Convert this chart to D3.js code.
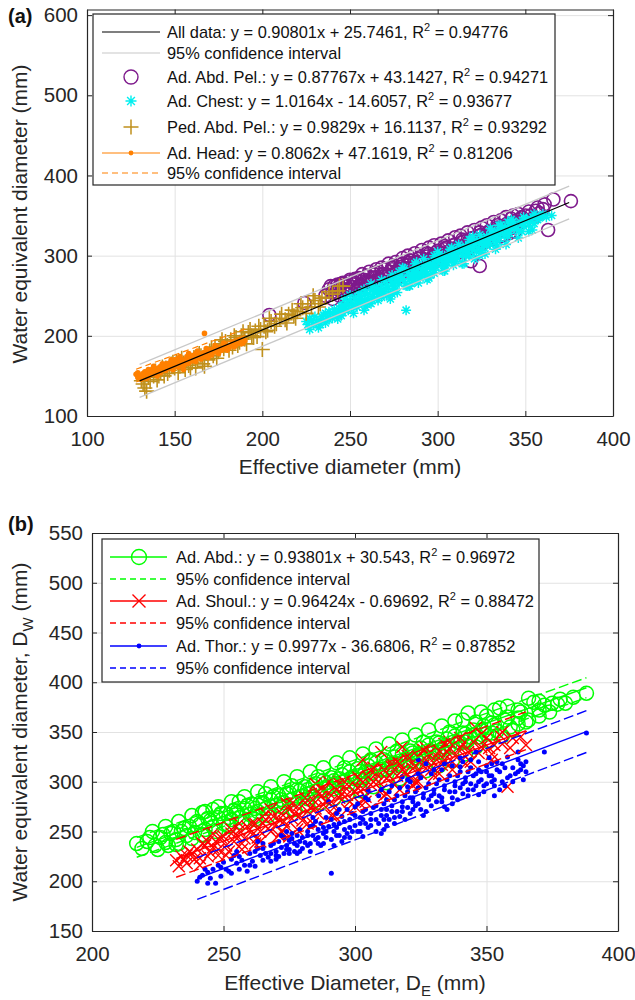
<!DOCTYPE html>
<html>
<head>
<meta charset="utf-8">
<script src="https://cdnjs.cloudflare.com/ajax/libs/d3/7.8.5/d3.min.js"></script>
<style>
  body { margin: 0; background: #fff; }
  svg text { font-family: "Liberation Sans", Arial, Helvetica, sans-serif; }
</style>
</head>
<body>
<svg id="chart" width="635" height="1000"></svg>
<script>

// ---------- data ----------

// panel (a) ticks
var xTicksA = [100, 150, 200, 250, 300, 350, 400];
var yTicksA = [100, 200, 300, 400, 500, 600];
// panel (b) ticks
var xTicksB = [200, 250, 300, 350, 400];
var yTicksB = [150, 200, 250, 300, 350, 400, 450, 500, 550];

// fits: [slope, intercept, xStart, xEnd, half width of 95% CI]
var fitAll   = [0.90801, 25.7461, 130, 375, 20.5];
var fitHead  = [0.8062, 47.1619, 128, 190, 8];
var fitAbd   = [0.93801, 30.543, 217, 388, 10];
var fitShoul = [0.96424, -0.69692, 232, 365, 19];
var fitThor  = [0.9977, -36.6806, 240, 388, 21];

// Ad. Head (orange dots) [De, Dw]
var headPts = [[128,152],[129,148],[130,151],[131,146],[132,153],[133,150],[134,155],[135,149],[136,156],[137,152],
  [138,158],[139,153],[140,157],[141,160],[142,154],[143,159],[144,162],[145,157],[146,163],[147,160],[148,165],
  [149,158],[150,164],[151,167],[152,161],[153,166],[154,170],[155,163],[156,168],[157,171],[158,166],[159,172],
  [160,169],[161,174],[162,168],[163,173],[164,176],[165,171],[166,177],[167,203],[167,174],[168,179],[169,173],
  [170,181],[171,176],[172,180],[174,184],[175,178],[176,183],[178,186],[180,182],[182,188],[184,186],[186,191],
  [188,190],[190,194],[145,165],[150,170],[155,158],[160,175],[140,150],[135,158],[158,176],[162,178],[152,172],
  [129,154],[131,150],[133,155],[134,147],[136,152],[137,158],[139,156],[141,155],[142,162],[144,158],[146,160],
  [147,166],[149,163],[151,163],[152,169],[154,166],[156,165],[157,174],[159,169],[161,170],[163,177],[165,174],
  [167,179],[169,177],[171,183],[173,180],[175,185],[177,182],[179,188],[181,185],[183,192],[185,189],[187,195],
  [189,191],[138,162],[143,165],[148,170],[153,174],[158,178],[163,181],[168,184],[173,188],[178,191]];

// Ped. Abd. Pel. (goldenrod plus)
var pedPts = [[131,144],[132,140],[133,135],[134,131],[135,148],[138,150],[140,145],[142,155],[144,150],[145,160],
  [147,157],[148,165],[150,160],[151,168],[152,154],[153,162],[155,166],[156,158],[157,170],[158,163],[160,167],
  [161,173],[162,160],[163,171],[165,175],[166,165],[168,178],[169,170],[170,181],[172,175],[173,186],[175,180],
  [176,190],[178,184],[179,193],[180,188],[182,195],[183,186],[185,198],[187,192],[188,200],[190,196],[192,204],
  [194,200],[196,206],[197,199],[199,208],[200,183],[201,212],[203,207],[205,218],[208,215],[210,222],[213,220],
  [215,227],[218,225],[220,230],[223,235],[226,240],[228,236],[230,244],[233,240],[236,248],[240,252],[243,256],
  [246,262],[234,247],
  [136,143],[139,156],[141,150],[143,161],[146,153],[149,167],[154,172],[159,160],[164,178],[167,162],[171,185],
  [174,172],[177,195],[181,182],[184,200],[186,188],[189,205],[191,190],[193,208],[195,198],[198,212],[202,205],
  [204,222],[207,212],[211,227],[214,216],[217,232],[219,222],[222,240],[225,228],[229,250],[232,236],[238,255],
  [244,262]];

// Ad. Abd. Pel. (purple circles)
var abdPelPts = [[204,226],[224,241],[236,250],[238,258],[240,255],[241,262],[243,258],[245,265],[246,258],[248,262],
  [250,268],[251,261],[253,266],[255,272],[256,264],[258,270],[260,275],[261,268],[263,272],[265,279],[266,270],
  [268,276],[270,283],[271,274],[273,280],[275,287],[276,278],[278,284],[280,290],[281,281],[283,288],[285,294],
  [286,285],[288,291],[290,298],[291,289],[293,295],[295,302],[296,293],[298,299],[300,306],[301,297],[303,303],
  [305,310],[306,300],[308,307],[310,314],[311,305],[313,311],[315,318],[316,309],[318,315],[319,293],[320,322],
  [321,312],[323,319],[324,287],[325,326],[326,316],[328,322],[330,330],[331,320],[333,327],[335,334],[336,324],
  [338,331],[340,338],[341,328],[343,335],[345,341],[347,345],[350,350],[352,355],[355,348],[357,360],[361,364],
  [363,332],[366,370],[376,368],[311,303],
  [240,246],[242,254],[244,250],[247,257],[249,253],[252,264],[254,259],[257,263],[259,268],[262,266],[264,273],
  [267,270],[269,277],[272,276],[274,283],[277,280],[279,286],[282,284],[284,291],[287,288],[289,296],[292,293],
  [294,299],[297,297],[299,304],[302,302],[304,308],[307,306],[309,313],[312,311],[314,317],[317,315],[319,321],
  [322,319],[324,325],[327,322],[329,330],[332,328],[334,335],[337,332],[339,339],[342,337],[344,343],[346,340],
  [348,348],[244,262],[254,268],[264,277],[274,285],[284,294],[294,303],[304,312],[314,320],[324,329],[334,338],
  [342,346],[249,258],[259,266],[269,274],[279,283],[289,292],[299,301],[309,309],[319,318],[329,326],[339,335],
  [353,350],[356,356],[358,353],[360,358],[350,344],
  [239,262],[243,264],[246,266],[250,270],[253,271],[257,277],[261,280],[265,283],[268,285],[272,290],[276,292],
  [280,297],[283,300],[287,303],[291,307],[295,310],[298,313],[302,315],[306,319],[310,323],[313,325],[317,329],
  [321,332],[325,335],[328,338],[332,342],[336,344],[339,348],[343,350],[346,352],[248,248],[258,258],[268,266],
  [278,274],[288,283],[298,292],[308,300],[318,309],[328,318],[338,326],[344,330]];

// Ad. Chest (cyan asterisks)
var chestPts = [[225,218],[227,222],[229,214],[230,224],[232,210],[233,220],[235,226],[236,216],[238,230],[240,222],
  [241,233],[243,226],[245,237],[246,229],[248,240],[249,232],[250,244],[252,236],[253,247],[255,240],[256,250],
  [258,243],[259,254],[260,246],[262,257],[263,249],[265,260],[266,252],[268,263],[269,255],[270,268],[272,259],
  [273,270],[275,262],[276,273],[278,265],[279,276],[281,268],[282,232],[283,279],[284,271],[286,282],[287,274],
  [289,285],[290,277],[292,288],[293,280],[295,291],[296,283],[298,294],[299,286],[301,297],[302,289],[304,300],
  [305,292],[307,303],[308,295],[310,306],[311,298],[313,309],[314,301],[316,312],[317,304],[319,315],[320,307],
  [322,318],[323,310],[325,321],[326,313],[328,324],[329,316],[331,327],[332,319],[334,330],[335,322],[337,333],
  [338,325],[340,336],[341,328],[343,339],[345,333],[347,342],[349,337],[351,345],[354,332],[356,350],[358,347],
  [365,350],[262,265],[280,285],[300,305],[318,320],[335,338],[250,251],[270,258],[290,272],[310,292],[330,314],
  [245,225],[275,255],[305,287],[325,306],[262,240],[285,265],
  [226,214],[228,219],[231,217],[234,224],[237,222],[239,228],[242,229],[244,234],[247,233],[249,238],[251,240],
  [254,244],[257,243],[260,252],[261,241],[264,255],[267,255],[268,248],[271,262],[274,265],[276,258],[277,268],
  [280,271],[282,262],[285,276],[287,269],[288,280],[291,283],[293,276],[294,286],[297,289],[298,282],[300,293],
  [303,296],[304,288],[306,299],[309,302],[310,296],[312,305],[315,308],[316,300],[318,311],[321,314],[322,306],
  [324,317],[327,320],[328,312],[330,322],[333,326],[334,318],[336,329],[339,331],[340,324],[342,335],[344,337],
  [346,331],[348,340],[350,343],[352,338],[353,346],[355,340],[357,345],[359,349],[362,348],[348,330],[236,228],
  [246,238],[256,246],[266,258],[276,268],[286,275],[296,288],[306,294],[316,307],[326,318],[244,230],[254,236],
  [264,246],[274,252],[284,262],[294,270],[304,281],[314,290],[324,300],[334,312],[258,258],[268,270],[278,280],
  [288,292],[298,300],[308,310],[320,324],[330,334],[340,342],
  [227,208],[233,214],[238,220],[243,221],[247,246],[252,228],[255,253],[259,236],[263,262],[266,244],[271,250],
  [274,276],[277,254],[281,284],[283,262],[287,290],[289,266],[292,296],[295,272],[298,278],[301,302],[303,281],
  [307,308],[309,288],[312,314],[315,290],[319,320],[321,296],[324,326],[327,302],[331,332],[333,308],[336,338],
  [339,314],[343,343],[346,322],[349,348],[352,330],[355,352],[360,352],[342,345],[318,300],[296,276],[273,246],
  [258,232]];

// Ad. Abd. (green circles)
var abdPts = [[217,238],[219,233],[221,240],[224,236],[226,244],[228,239],[230,248],[232,242],[234,250],[236,246],
  [237,255],[239,249],[241,257],[242,269],[243,252],[245,261],[246,255],[248,264],[250,258],[251,268],[253,262],
  [255,270],[256,264],[258,273],[260,267],[261,277],[263,270],[265,279],[266,273],[268,282],[270,276],[271,286],
  [273,279],[275,289],[276,282],[278,292],[280,285],[281,295],[283,288],[285,298],[286,291],[288,301],[290,294],
  [291,304],[293,297],[295,307],[296,300],[298,310],[300,303],[301,313],[303,306],[305,316],[306,309],[308,319],
  [310,312],[311,322],[313,315],[315,325],[316,318],[318,328],[320,321],[321,331],[323,324],[325,334],[326,327],
  [328,337],[330,330],[331,340],[333,333],[335,343],[336,336],[338,346],[340,339],[341,349],[343,342],[345,352],
  [347,345],[349,356],[350,348],[352,359],[354,351],[357,362],[359,355],[362,364],[365,360],[368,380],[372,377],
  [375,379],[377,378],[380,379],[388,389],[343,369],[341,362],[355,374],[362,372],
  [222,244],[225,232],[227,247],[229,236],[231,250],[233,238],[235,253],[238,243],[240,260],[242,247],[244,263],
  [247,250],[249,268],[252,255],[254,271],[257,259],[259,276],[262,262],[264,279],[267,266],[269,285],[272,268],
  [274,288],[277,272],[279,291],[282,276],[284,296],[287,279],[289,299],[292,283],[294,303],[297,287],[299,305],
  [302,291],[304,310],[307,295],[309,313],[312,299],[314,317],[317,303],[319,322],[322,307],[324,326],[327,311],
  [329,331],[332,316],[334,335],[337,321],[339,340],[342,328],[344,345],[346,335],[348,352],[351,341],[353,357],
  [356,346],[358,365],[360,352],[363,370],[366,362],[370,372],[374,370],[378,383],[383,385],[246,272],[256,280],
  [266,288],[276,296],[286,305],[296,314],[306,322],[316,331],[326,340],[336,350],[346,360],[350,366],[252,264],
  [262,273],[272,282],[282,292],[292,301],[302,310],[312,320],[322,329],[332,339],[342,348],
  [223,250],[228,255],[233,260],[238,266],[243,270],[248,275],[253,280],[258,285],[263,290],[268,295],[273,300],
  [278,305],[283,310],[288,314],[293,319],[298,324],[303,328],[308,333],[313,338],[318,342],[323,347],[328,352],
  [333,356],[338,361],[348,370],[353,372],[358,376],[366,384],[370,381],[232,237],[242,246],[252,256],[262,265],
  [272,275],[282,283],[292,293],[302,302],[312,312],[322,321],[332,330],[342,340],[352,349],[362,358],[370,366]];

// Ad. Shoul. (red crosses)
var shoulPts = [[232,221],[234,225],[236,218],[238,228],[240,232],[241,223],[243,236],[245,229],[247,240],[248,232],
  [250,245],[251,236],[253,248],[254,240],[256,251],[258,243],[259,255],[261,247],[262,258],[264,250],[266,262],
  [267,253],[269,265],[270,257],[272,268],[273,260],[275,272],[276,263],[278,275],[279,266],[281,279],[282,270],
  [284,282],[285,273],[287,285],[288,277],[290,289],[291,280],[293,292],[294,284],[296,295],[297,287],[299,299],
  [300,290],[302,302],[303,293],[305,305],[306,297],[308,308],[309,300],[311,312],[312,303],[314,315],[316,306],
  [317,318],[319,310],[320,322],[322,313],[324,325],[326,316],[328,328],[330,319],[332,331],[334,322],[336,334],
  [338,326],[341,338],[343,330],[346,354],[348,335],[351,334],[355,347],[358,295],[359,334],[365,337],[324,300],
  [300,275],[275,245],[310,330],[290,300],
  [233,215],[235,222],[237,230],[239,222],[242,238],[244,225],[246,234],[249,244],[252,230],[255,246],[257,238],
  [260,252],[263,244],[265,258],[268,250],[271,262],[274,255],[277,268],[280,261],[283,274],[286,268],[289,281],
  [292,274],[295,288],[298,280],[301,294],[304,285],[307,300],[310,292],[313,306],[315,297],[318,312],[321,303],
  [323,316],[325,308],[327,322],[329,312],[331,326],[333,317],[335,330],[337,320],[340,334],[342,325],[345,340],
  [347,329],[350,344],[353,337],[356,350],[246,248],[256,258],[266,268],[276,278],[286,290],[296,300],[306,311],
  [316,320],[326,332],[336,340],[251,226],[262,238],[272,250],[282,258],[292,266],[302,278],[312,288],[322,296],
  [332,308],[342,318],[352,328],
  [236,226],[241,216],[244,240],[248,226],[253,252],[257,232],[261,258],[264,240],[268,272],[271,246],[274,278],
  [278,252],[281,284],[284,258],[288,292],[291,266],[294,298],[297,272],[301,305],[304,280],[307,314],[311,286],
  [314,318],[317,292],[320,326],[323,300],[327,334],[330,306],[334,338],[337,312],[340,344],[344,320],[348,348],
  [352,322],[356,338],[360,344],[363,345],[318,335],[303,322],[285,298]];

// Ad. Thor. (blue dots)
var thorPts = [[240,200],[242,206],[244,209],[246,212],[247,198],[249,214],[250,219],[252,210],[253,222],[255,218],
  [256,225],[258,216],[260,228],[261,220],[262,230],[264,226],[265,233],[267,224],[268,236],[270,230],[271,240],
  [272,234],[273,244],[274,236],[275,241],[276,248],[277,238],[278,246],[279,252],[280,244],[281,239],[282,250],
  [283,255],[284,246],[285,242],[286,252],[287,258],[288,248],[289,244],[290,255],[291,208],[291,262],[292,250],
  [293,246],[294,258],[295,265],[296,252],[297,248],[298,262],[299,268],[300,256],[301,250],[302,264],[303,270],
  [304,258],[305,254],[306,268],[307,274],[308,262],[309,258],[310,272],[311,278],[312,266],[313,262],[314,276],
  [315,282],[316,270],[317,265],[318,280],[319,286],[320,274],[321,268],[322,284],[323,290],[324,278],[325,272],
  [326,288],[327,294],[328,282],[329,276],[330,292],[331,298],[332,286],[333,280],[334,296],[335,302],[336,290],
  [337,284],[338,300],[339,306],[340,294],[341,288],[342,304],[343,310],[344,298],[345,292],[346,308],[347,312],
  [348,302],[349,296],[350,310],[351,306],[352,300],[354,312],[356,318],[358,304],[360,314],[362,322],[364,316],
  [372,330],[388,349],[263,240],[285,260],[300,275],[320,295],[340,315],[275,228],[295,240],[315,258],[335,272],
  [355,292],[270,222],[310,248],[312,256],[337,278],[347,287],[324,322],[327,318],[358,325],[363,312],[318,305],
  [305,292],[290,280],
  [241,204],[243,212],[245,203],[248,216],[251,212],[254,226],[257,221],[259,210],[263,233],[266,228],[269,238],
  [270,226],[272,246],[273,228],[274,232],[276,243],[277,230],[278,236],[279,240],[280,233],[282,246],[283,238],
  [284,256],[286,244],[287,236],[288,254],[289,264],[291,242],[292,257],[293,268],[294,246],[296,260],[297,272],
  [298,254],[300,266],[301,278],[302,258],[303,245],[304,272],[305,282],[306,262],[308,276],[309,286],[310,266],
  [311,252],[312,282],[313,290],[314,270],[316,286],[317,294],[318,275],[319,262],[320,290],[321,300],[322,280],
  [324,294],[325,304],[326,284],[327,270],[328,298],[329,308],[330,288],[332,302],[333,312],[334,292],[336,306],
  [337,316],[338,296],[339,282],[340,310],[341,320],[342,300],[344,314],[345,306],[346,296],[347,320],[348,310],
  [349,290],[350,316],[351,324],[352,306],[353,296],[354,320],[355,310],[356,300],[357,314],[359,306],[361,308],
  [363,318],[364,302],[365,310],[283,230],[292,236],[302,250],[311,262],[322,272],[333,284],[343,292],[353,302],
  [260,216],[268,220],[278,228],[288,238],[298,244],[310,292],[320,302],[330,312],[340,324],[346,330],
  [244,198],[249,205],[253,208],[256,212],[262,215],[265,221],[268,228],[271,225],[275,232],[279,230],[282,236],
  [286,238],[289,250],[293,254],[296,244],[299,250],[303,262],[306,256],[308,250],[312,272],[315,264],[318,270],
  [321,284],[323,276],[326,266],[329,286],[331,280],[334,275],[338,290],[341,298],[343,286],[347,300],[350,298],
  [353,286],[357,296],[360,300],[362,310],[365,320],[255,230],[265,238],[274,250],[284,264],[294,272],[304,284],
  [314,296],[324,308],[334,318],[344,322],[352,318],[362,330]];

// legend labels ("^2" is drawn as a superscript)
var legendA = [
  "All data: y = 0.90801x + 25.7461, R^2 = 0.94776",
  "95% confidence interval",
  "Ad. Abd. Pel.: y = 0.87767x + 43.1427, R^2 = 0.94271",
  "Ad. Chest: y = 1.0164x - 14.6057, R^2 = 0.93677",
  "Ped. Abd. Pel.: y = 0.9829x + 16.1137, R^2 = 0.93292",
  "Ad. Head: y = 0.8062x + 47.1619, R^2 = 0.81206",
  "95% confidence interval"
];
var legendB = [
  "Ad. Abd.: y = 0.93801x + 30.543, R^2 = 0.96972",
  "95% confidence interval",
  "Ad. Shoul.: y = 0.96424x - 0.69692, R^2 = 0.88472",
  "95% confidence interval",
  "Ad. Thor.: y = 0.9977x - 36.6806, R^2 = 0.87852",
  "95% confidence interval"
];

// ---------- drawing ----------

var svg = d3.select("#chart");
var axisColor = "#262626",
    gridColor = "#e2e2e2",
    tickFont = 20.5,
    labelFont = 21,
    legendFont = 16.4;

var purple = "#7e1a8c", cyan = "#00f0f0", gold = "#c0901c", orange = "#ff8000",
    green = "#00ff00", red = "#ff0000", blue = "#0000ff", ciGray = "#c8c8c8";

// marker path builders (centred on 0,0)
function plusPath(r) { return "M" + (-r) + ",0H" + r + "M0," + (-r) + "V" + r; }
function crossPath(r) { return "M" + (-r) + "," + (-r) + "L" + r + "," + r + "M" + (-r) + "," + r + "L" + r + "," + (-r); }
function starPath(r) { var a = r * 0.7071; return plusPath(r) + "M" + (-a) + "," + (-a) + "L" + a + "," + a + "M" + (-a) + "," + a + "L" + a + "," + (-a); }

function makeAxes(o) {
    var x = d3.scaleLinear().domain(o.xDom).range([o.left, o.right]);
    var y = d3.scaleLinear().domain(o.yDom).range([o.bottom, o.top]);
    var h = o.bottom - o.top, w = o.right - o.left;

    // grid lines
    svg.append("g").attr("transform", "translate(0," + o.bottom + ")")
        .call(d3.axisBottom(x).tickValues(o.xTicks).tickSize(-h).tickFormat(""))
        .call(function(s) { s.select(".domain").remove(); s.selectAll("line").attr("stroke", gridColor); });
    svg.append("g").attr("transform", "translate(" + o.left + ",0)")
        .call(d3.axisLeft(y).tickValues(o.yTicks).tickSize(-w).tickFormat(""))
        .call(function(s) { s.select(".domain").remove(); s.selectAll("line").attr("stroke", gridColor); });

    // box + inward ticks on all four sides
    var ax = [
        [d3.axisBottom(x).tickValues(o.xTicks).tickSizeInner(-5).tickSizeOuter(0).tickPadding(15), "translate(0," + o.bottom + ")", true],
        [d3.axisTop(x).tickValues(o.xTicks).tickSizeInner(-5).tickSizeOuter(0), "translate(0," + o.top + ")", false],
        [d3.axisLeft(y).tickValues(o.yTicks).tickSizeInner(-5).tickSizeOuter(0).tickPadding(9), "translate(" + o.left + ",0)", true],
        [d3.axisRight(y).tickValues(o.yTicks).tickSizeInner(-5).tickSizeOuter(0), "translate(" + o.right + ",0)", false]
    ];
    ax.forEach(function(a) {
        var gA = svg.append("g").attr("transform", a[1]).call(a[0]);
        gA.select(".domain").attr("stroke", axisColor).attr("stroke-width", 1.2);
        gA.selectAll(".tick line").attr("stroke", axisColor);
        if (a[2]) {
            gA.selectAll(".tick text").attr("fill", axisColor)
                .style("font-size", tickFont + "px").style("font-family", "Liberation Sans, Arial, sans-serif");
        } else {
            gA.selectAll(".tick text").remove();
        }
    });
    return {x: x, y: y};
}

function fitLine(sc, f, offset, color, dash, width) {
    var pts = [f[2], f[3]].map(function(v) { return [v, f[0] * v + f[1] + offset]; });
    svg.append("path")
        .attr("d", d3.line().x(function(d) { return sc.x(d[0]); }).y(function(d) { return sc.y(d[1]); })(pts))
        .attr("fill", "none").attr("stroke", color).attr("stroke-width", width || 1.3)
        .attr("stroke-dasharray", dash || null);
}

function scatterPaths(sc, data, dPath, color, sw) {
    svg.append("g").selectAll("path").data(data).join("path")
        .attr("transform", function(d) { return "translate(" + sc.x(d[0]) + "," + sc.y(d[1]) + ")"; })
        .attr("d", dPath).attr("fill", "none").attr("stroke", color).attr("stroke-width", sw);
}
function scatterCircles(sc, data, r, color, filled, sw) {
    svg.append("g").selectAll("circle").data(data).join("circle")
        .attr("cx", function(d) { return sc.x(d[0]); })
        .attr("cy", function(d) { return sc.y(d[1]); })
        .attr("r", r)
        .attr("fill", filled ? color : "none")
        .attr("stroke", filled ? "none" : color).attr("stroke-width", sw || 1.4);
}

// text with an "^2" superscript
function supText(sel, str) {
    var parts = str.split("^2");
    sel.append("tspan").text(parts[0]);
    if (parts.length > 1) {
        sel.append("tspan").attr("dy", -7).style("font-size", "11px").text("2");
        sel.append("tspan").attr("dy", 7).text(parts[1]);
    }
}

function legendBox(x0, y0, x1, y1, textX, rowsY, labels, swatch) {
    var g = svg.append("g");
    g.append("rect").attr("x", x0).attr("y", y0).attr("width", x1 - x0).attr("height", y1 - y0)
        .attr("fill", "#fff").attr("stroke", axisColor).attr("stroke-width", 1.2);
    labels.forEach(function(lab, i) {
        var cy = rowsY[i];
        swatch(g, i, cy);
        var t = g.append("text").attr("x", textX).attr("y", cy + 5.5)
            .style("font-size", legendFont + "px").attr("fill", "#111");
        supText(t, lab);
    });
}

// ===== panel (a) =====
var A = makeAxes({xDom: [100, 400], yDom: [100, 607], left: 87, right: 613, top: 9.5, bottom: 416,
                  xTicks: xTicksA, yTicks: yTicksA});

scatterCircles(A, abdPelPts, 6.5, purple, false, 1.6);
scatterPaths(A, chestPts, starPath(5), cyan, 1.5);
scatterPaths(A, pedPts, plusPath(7.5), gold, 1.6);
scatterCircles(A, headPts, 2.8, orange, true);

fitLine(A, fitAll, fitAll[4], ciGray, null, 1.3);
fitLine(A, fitAll, -fitAll[4], ciGray, null, 1.3);
fitLine(A, fitHead, fitHead[4], orange, "6,4", 1.2);
fitLine(A, fitHead, -fitHead[4], orange, "6,4", 1.2);
fitLine(A, fitHead, 0, orange, null, 1.2);
fitLine(A, fitAll, 0, "#000", null, 1.2);

legendBox(93, 14, 555, 185, 167, [32, 53, 77, 101, 127, 153, 173], legendA, function(g, i, cy) {
    var x0 = 102, x1 = 160, xm = 131;
    if (i === 0) g.append("line").attr("x1", x0).attr("x2", x1).attr("y1", cy).attr("y2", cy).attr("stroke", "#000").attr("stroke-width", 1.2);
    if (i === 1) g.append("line").attr("x1", x0).attr("x2", x1).attr("y1", cy).attr("y2", cy).attr("stroke", ciGray).attr("stroke-width", 1.2);
    if (i === 2) g.append("circle").attr("cx", xm).attr("cy", cy).attr("r", 7).attr("fill", "none").attr("stroke", purple).attr("stroke-width", 1.4);
    if (i === 3) g.append("path").attr("transform", "translate(" + xm + "," + cy + ")").attr("d", starPath(5.5)).attr("stroke", cyan).attr("stroke-width", 1.4);
    if (i === 4) g.append("path").attr("transform", "translate(" + xm + "," + cy + ")").attr("d", plusPath(7.5)).attr("stroke", gold).attr("stroke-width", 1.5);
    if (i === 5) {
        g.append("line").attr("x1", x0).attr("x2", x1).attr("y1", cy).attr("y2", cy).attr("stroke", orange).attr("stroke-width", 1.2);
        g.append("circle").attr("cx", xm).attr("cy", cy).attr("r", 2.4).attr("fill", orange);
    }
    if (i === 6) g.append("line").attr("x1", x0).attr("x2", x1).attr("y1", cy).attr("y2", cy).attr("stroke", orange).attr("stroke-width", 1.2).attr("stroke-dasharray", "6,4");
});

// axis labels (a)
svg.append("text").attr("x", 350).attr("y", 474).attr("text-anchor", "middle")
    .style("font-size", labelFont + "px").attr("fill", axisColor).text("Effective diameter (mm)");
svg.append("text").attr("transform", "translate(27,214) rotate(-90)").attr("text-anchor", "middle")
    .style("font-size", labelFont + "px").attr("fill", axisColor).text("Water equivalent diameter (mm)");
svg.append("text").attr("x", 8).attr("y", 23).style("font-size", "20px").style("font-weight", "bold")
    .attr("fill", "#111").text("(a)");

// ===== panel (b) =====
var B = makeAxes({xDom: [200, 400], yDom: [150, 550], left: 92, right: 618, top: 533, bottom: 931,
                  xTicks: xTicksB, yTicks: yTicksB});

scatterCircles(B, abdPts, 7, green, false, 1.5);
scatterPaths(B, shoulPts, crossPath(6), red, 1.4);
scatterCircles(B, thorPts, 2.5, blue, true);

[[fitAbd, green], [fitShoul, red], [fitThor, blue]].forEach(function(p) {
    fitLine(B, p[0], 0, p[1], null, 1.4);
    fitLine(B, p[0], p[0][4], p[1], "10,4", 1.4);
    fitLine(B, p[0], -p[0][4], p[1], "10,4", 1.4);
});

legendBox(102, 539, 539, 682, 176, [557, 579, 601, 623, 646, 668], legendB, function(g, i, cy) {
    var x0 = 110, x1 = 167, xm = 139;
    var col = [green, green, red, red, blue, blue][i];
    var ln = g.append("line").attr("x1", x0).attr("x2", x1).attr("y1", cy).attr("y2", cy)
        .attr("stroke", col).attr("stroke-width", 1.3);
    if (i % 2 === 1) ln.attr("stroke-dasharray", "6,4");
    if (i === 0) g.append("circle").attr("cx", xm).attr("cy", cy).attr("r", 7.5).attr("fill", "none").attr("stroke", green).attr("stroke-width", 1.4);
    if (i === 2) g.append("path").attr("transform", "translate(" + xm + "," + cy + ")").attr("d", crossPath(6.5)).attr("stroke", red).attr("stroke-width", 1.4);
    if (i === 4) g.append("circle").attr("cx", xm).attr("cy", cy).attr("r", 2.4).attr("fill", blue);
});

// axis labels (b), with subscripts
var xlb = svg.append("text").attr("x", 355).attr("y", 990).attr("text-anchor", "middle")
    .style("font-size", labelFont + "px").attr("fill", axisColor);
xlb.append("tspan").text("Effective Diameter, D");
xlb.append("tspan").attr("dy", 6).style("font-size", "15px").text("E");
xlb.append("tspan").attr("dy", -6).text(" (mm)");

var ylb = svg.append("text").attr("transform", "translate(27,732) rotate(-90)").attr("text-anchor", "middle")
    .style("font-size", labelFont + "px").attr("fill", axisColor);
ylb.append("tspan").text("Water equivalent diameter, D");
ylb.append("tspan").attr("dy", 6).style("font-size", "15px").text("W");
ylb.append("tspan").attr("dy", -6).text(" (mm)");

svg.append("text").attr("x", 8).attr("y", 531).style("font-size", "20px").style("font-weight", "bold")
    .attr("fill", "#111").text("(b)");

</script>
</body>
</html>
